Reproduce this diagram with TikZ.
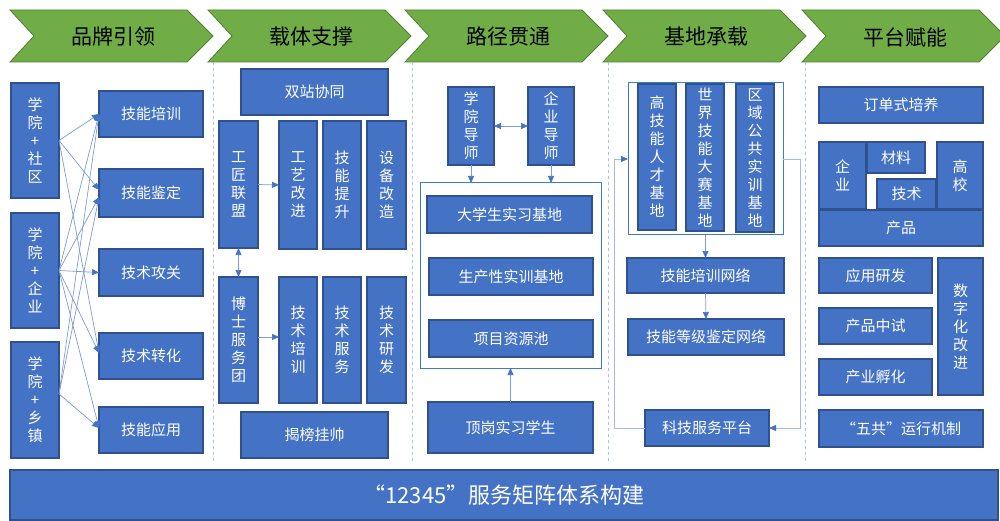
\documentclass[tikz,border=0pt]{standalone}
\usepackage{fontspec}
\setmainfont{Noto Sans CJK SC}
\usetikzlibrary{arrows.meta,calc}
\definecolor{boxblue}{HTML}{4472C4}
\definecolor{boxedge}{HTML}{2F528F}
\definecolor{linecol}{HTML}{7D9BD6}
\definecolor{loopcol}{HTML}{A3BBE3}
\definecolor{outcol}{HTML}{3C7EBF}
\definecolor{sepcol}{HTML}{A9C4E8}
\definecolor{chevfill}{HTML}{70AD47}
\definecolor{chevedge}{HTML}{507E32}
\newcommand\mybox[7][]{\node[box,minimum width={(#5)-(#3)},minimum height={(#6)-(#4)},#1] (#2) at ({((#3)+(#5))/2},{((#4)+(#6))/2}) {#7};}
\tikzset{
  box/.style={draw=boxedge,fill=boxblue,line width=1.1pt,text=white,inner sep=0pt,outer sep=0pt,align=center,font=\fontsize{15}{18}\selectfont},
  outl/.style={draw=outcol,fill=none,line width=1pt},
  conn/.style={draw=linecol,line width=0.7pt,-{Triangle[length=7pt,width=6pt,color=boxblue]}},
  dconn/.style={draw=linecol,line width=0.7pt,{Triangle[length=7pt,width=6pt,color=boxblue]}-{Triangle[length=7pt,width=6pt,color=boxblue]}},
  loopc/.style={draw=loopcol,line width=0.9pt,-{Triangle[length=7pt,width=6pt,color=boxblue]}},
  chev/.style={draw=chevedge,fill=chevfill,line width=0.8pt},
  hdr/.style={text=black,font=\fontsize{21}{24}\selectfont},
  sep/.style={draw=sepcol,dashed,line width=0.6pt}
}
\begin{document}
\begin{tikzpicture}[x=1pt,y=-1pt]
\useasboundingbox (0,0) rectangle (1000,521);
\fill[white] (0,0) rectangle (1000,521);
% headers
\foreach \x/\t [count=\i] in {10/品牌引领,208/载体支撑,405/路径贯通,603/基地承载,802/平台赋能}{
  \draw[chev] (\x,10) -- ++(177,0) -- ++(26,26) -- ++(-26,26) -- ++(-177,0) -- ++(24,-26) -- cycle;
  \node[hdr] (h\i) at (\x+103,37) {\t};
}
% separators
\foreach \x in {213,412,608,805}{ \draw[sep] (\x,62) -- (\x,463); }
% column 1
\mybox{c1a}{11}{83}{59}{198}{学\\院\\+\\社\\区}
\mybox{c1b}{11}{213}{59}{328}{学\\院\\+\\企\\业}
\mybox{c1c}{11}{342}{59}{458}{学\\院\\+\\乡\\镇}
\mybox{r1}{99}{91}{203}{137}{技能培训}
\mybox{r2}{99}{169}{203}{217}{技能鉴定}
\mybox{r3}{99}{249}{203}{296}{技术攻关}
\mybox{r4}{99}{333}{203}{379}{技术转化}
\mybox{r5}{99}{407}{203}{453}{技能应用}
\draw[conn] (c1a.east) -- (r1.west);
\draw[conn] (c1a.east) -- ($(r2.west)+(0,-3)$);
\draw[conn] (c1a.east) -- ($(r4.west)+(0,-3)$);
\draw[conn] (c1b.east) -- (r1.west);
\draw[conn] (c1b.east) -- ($(r2.west)+(0,4)$);
\draw[conn] (c1b.east) -- (r3.west);
\draw[conn] (c1b.east) -- ($(r4.west)+(0,-3)$);
\draw[conn] (c1b.east) -- ($(r5.west)+(0,-2)$);
\draw[conn] ($(c1c.east)+(0,-6)$) -- (r1.west);
\draw[conn] ($(c1c.east)+(0,-6)$) -- ($(r2.west)+(0,4)$);
\draw[conn] ($(c1c.east)+(0,-6)$) -- ($(r5.west)+(0,-2)$);
% column 2
\mybox{k1}{241}{69}{388}{115}{双站协同}
\mybox{k2}{219}{121}{258}{248}{工\\匠\\联\\盟}
\mybox{k3}{279}{121}{317}{249}{工\\艺\\改\\进}
\mybox{k4}{323}{121}{361}{249}{技\\能\\提\\升}
\mybox{k5}{367}{121}{406}{249}{设\\备\\改\\造}
\mybox{k6}{219}{277}{258}{403}{博\\士\\服\\务\\团}
\mybox{k7}{279}{277}{317}{403}{技\\术\\培\\训}
\mybox{k8}{323}{277}{361}{403}{技\\术\\服\\务}
\mybox{k9}{367}{277}{406}{403}{技\\术\\研\\发}
\mybox{k10}{241}{412}{388}{458}{揭榜挂帅}
\draw[conn] (k2.east) -- (k3.west);
\draw[conn] ($(k6.east)+(0,-3)$) -- ($(k7.west)+(0,-3)$);
\draw[dconn] (k2.south) -- (k6.north);
% column 3
\mybox[outl]{o3}{420}{183}{601}{368}{}
\mybox{m1}{448}{87}{494}{165}{学\\院\\导\\师}
\mybox{m2}{528}{87}{574}{165}{企\\业\\导\\师}
\mybox{m3}{427}{196}{592}{233}{大学生实习基地}
\mybox{m4}{429}{258}{593}{295}{生产性实训基地}
\mybox{m5}{429}{320}{593}{357}{项目资源池}
\mybox{m6}{428}{402}{593}{453}{顶岗实习学生}
\draw[dconn] (m1.east) -- (m2.west);
\draw[conn] (m1.south) -- (m1.south |- o3.north);
\draw[conn] (m2.south) -- (m2.south |- o3.north);
\draw[conn] (m6.north) -- (m6.north |- o3.south);
% column 4
\mybox[outl]{o4}{628}{83}{783}{235}{}
\mybox{g1}{638}{84}{676}{230}{高\\技\\能\\人\\才\\基\\地}
\mybox{g2}{686}{84}{724}{231}{世\\界\\技\\能\\大\\赛\\基\\地}
\mybox{g3}{736}{84}{774}{232}{区\\域\\公\\共\\实\\训\\基\\地}
\mybox{n1}{627}{258}{784}{293}{技能培训网络}
\mybox{n2}{628}{319}{784}{355}{技能等级鉴定网络}
\mybox{n3}{645}{410}{769}{446}{科技服务平台}
\draw[conn] (o4.south) -- (n1.north);
\draw[conn] (n1.south) -- (n2.north);
\draw[loopc] (n3.west) -- ++(-31,0) |- (o4.west);
\draw[loopc] (o4.east) -- ++(17,0) |- (n3.east);
% column 5
\mybox{p1}{819}{87}{983}{123}{订单式培养}
\mybox{p2}{819}{142}{866}{209}{企\\业}
\mybox{p3}{867}{142}{925}{173}{材料}
\mybox{p4}{877}{179}{936}{209}{技术}
\mybox{p5}{937}{142}{983}{209}{高\\校}
\mybox{p6}{819}{210}{983}{246}{产品}
\mybox{p7}{819}{258}{932}{293}{应用研发}
\mybox{p8}{819}{308}{932}{344}{产品中试}
\mybox{p9}{819}{359}{932}{395}{产业孵化}
\mybox{p10}{938}{258}{983}{395}{数\\字\\化\\改\\进}
\mybox{p11}{819}{410}{983}{447}{“五共”运行机制}
% bottom bar
\mybox[font=\fontsize{22}{26}\selectfont]{bar}{10}{470}{998}{520}{“12345”服务矩阵体系构建}
\end{tikzpicture}
\end{document}
